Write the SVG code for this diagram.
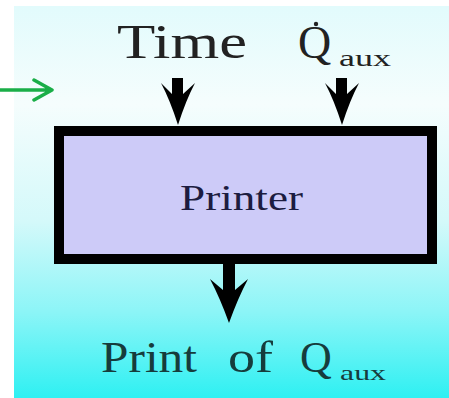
<svg xmlns="http://www.w3.org/2000/svg" width="449" height="398" viewBox="0 0 449 398">
<defs>
<linearGradient id="bg" x1="0" y1="0" x2="0" y2="1">
<stop offset="0" stop-color="#e2fbfc"/>
<stop offset="0.25" stop-color="#f5fdfd"/>
<stop offset="0.55" stop-color="#d4f9fa"/>
<stop offset="0.78" stop-color="#8cf5f7"/>
<stop offset="1" stop-color="#2ef0f2"/>
</linearGradient>
<style>
text{font-family:'Liberation Serif','Times New Roman',serif;}
.blk{fill:#000;}
</style>
</defs>
<rect x="0" y="0" width="449" height="398" fill="#fff"/>
<rect x="14" y="6" width="435" height="392" fill="url(#bg)"/>
<g id="pointer">
<path d="M0 90 H52 M34 80 L52 90 L34 100" fill="none" stroke="#1aae48" stroke-width="3.5" stroke-linecap="round" stroke-linejoin="round"/>
</g>
<g id="connectors">
<path class="blk" d="M172 78 H183 V94 L195 83 Q186 100 178 125 Q170 100 161 83 L172 94 Z"/>
<path class="blk" d="M336 78 H347 V94 L359 83 Q350 100 342 125 Q334 100 325 83 L336 94 Z"/>
<path class="blk" d="M223 262 H235 V290 L248 279 Q238 298 229 323 Q220 298 210 279 L223 290 Z"/>
</g>
<g id="time">
<text x="117" y="58" font-family="Liberation Serif, serif" font-size="48" fill="#222" textLength="130" lengthAdjust="spacingAndGlyphs">Time</text>
</g>
<g id="qdot">
<text x="298" y="58" font-family="Liberation Serif, serif" font-size="46" fill="#222">Q</text>
<circle cx="316" cy="24" r="2.2" fill="#222"/>
<text x="339" y="66" font-family="Liberation Serif, serif" font-size="24" fill="#222" textLength="52" lengthAdjust="spacingAndGlyphs">aux</text>
</g>
<g id="printer">
<rect x="59" y="131" width="373" height="128" fill="#cdcbf8" stroke="#000" stroke-width="10"/>
<text x="180" y="210" font-family="Liberation Serif, serif" font-size="36" fill="#1c1c40" textLength="123" lengthAdjust="spacingAndGlyphs">Printer</text>
</g>
<g id="output">
<text x="101" y="372" font-family="Liberation Serif, serif" font-size="44" fill="#163c3c" textLength="96" lengthAdjust="spacingAndGlyphs">Print</text>
<text x="228" y="372" font-family="Liberation Serif, serif" font-size="44" fill="#163c3c" textLength="45" lengthAdjust="spacingAndGlyphs">of</text>
<text x="300" y="372" font-family="Liberation Serif, serif" font-size="44" fill="#163c3c">Q</text>
<text x="340" y="380" font-family="Liberation Serif, serif" font-size="22" fill="#163c3c" textLength="46" lengthAdjust="spacingAndGlyphs">aux</text>
</g>
</svg>
